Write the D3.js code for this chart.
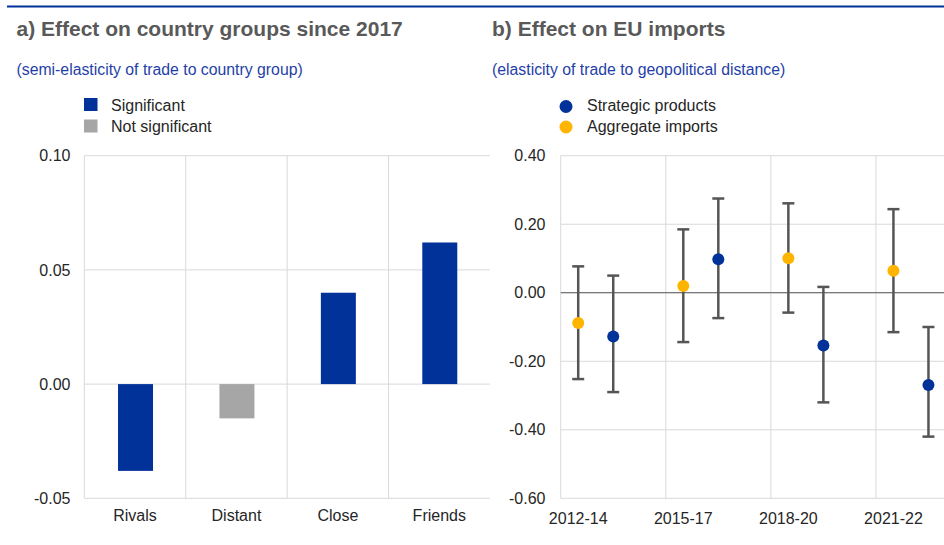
<!DOCTYPE html>
<html><head><meta charset="utf-8">
<script src="https://cdn.jsdelivr.net/npm/d3@7"></script>
<style>
html,body{margin:0;padding:0;background:#fff;}
svg{display:block;font-family:"Liberation Sans",Arial,sans-serif;}
</style></head>
<body>
<svg id="c" width="944" height="545"></svg>
<script>
// ---- Panel a data ----
const groups = ["Rivals", "Distant", "Close", "Friends"];
const groupValues = [-0.038, -0.015, 0.040, 0.062];
const groupSignificant = [true, false, true, true];
const aTicks = [-0.05, 0.00, 0.05, 0.10];

// ---- Panel b data ----
const periods = ["2012-14", "2015-17", "2018-20", "2021-22"];
const aggregateValue = [-0.088, 0.020, 0.101, 0.064];
const aggregateLow   = [-0.252, -0.144, -0.058, -0.115];
const aggregateHigh  = [0.077, 0.185, 0.261, 0.244];
const strategicValue = [-0.128, 0.098, -0.154, -0.269];
const strategicLow   = [-0.290, -0.074, -0.320, -0.420];
const strategicHigh  = [0.050, 0.275, 0.017, -0.100];
const bTicks = [-0.60, -0.40, -0.20, 0.00, 0.20, 0.40];

const BLUE = "#003299", GREY = "#a6a6a6", YELLOW = "#ffb400";
const GRID = "#d9d9d9", TXT = "#262626", TITLE = "#595959", SUB = "#1f3fa8";
const fmt = d => d.toFixed(2);

const svg = d3.select("#c");

// top rule
svg.append("line").attr("x1", 7).attr("x2", 944).attr("y1", 6.5).attr("y2", 6.5)
  .attr("stroke", BLUE).attr("stroke-width", 2);

function header(x, title, sub) {
  svg.append("text").attr("x", x).attr("y", 36).attr("font-size", 21).attr("font-weight", "bold")
    .attr("fill", TITLE).text(title);
  svg.append("text").attr("x", x).attr("y", 75).attr("font-size", 15.8).attr("fill", SUB).text(sub);
}
header(16.5, "a) Effect on country groups since 2017", "(semi-elasticity of trade to country group)");
header(492, "b) Effect on EU imports", "(elasticity of trade to geopolitical distance)");

// ---------------- Panel a ----------------
const ax = d3.scaleBand().domain(groups).range([84.3, 490]);
const ay = d3.scaleLinear().domain([-0.05, 0.10]).range([498.3, 155.7]);
const ga = svg.append("g");

ga.selectAll("line.h").data(aTicks).join("line")
  .attr("x1", 84.3).attr("x2", 490).attr("y1", d => ay(d)).attr("y2", d => ay(d))
  .attr("stroke", GRID).attr("stroke-width", 1);
ga.selectAll("line.v").data(groups).join("line")
  .attr("x1", d => ax(d)).attr("x2", d => ax(d)).attr("y1", ay(0.10)).attr("y2", ay(-0.05))
  .attr("stroke", GRID).attr("stroke-width", 1);

const barW = ax.bandwidth() * 0.345;
ga.selectAll("rect.bar").data(groups).join("rect")
  .attr("x", d => ax(d) + ax.bandwidth() / 2 - barW / 2 + 0.5)
  .attr("width", barW)
  .attr("y", (d, i) => ay(Math.max(0, groupValues[i])))
  .attr("height", (d, i) => Math.abs(ay(groupValues[i]) - ay(0)))
  .attr("fill", (d, i) => groupSignificant[i] ? BLUE : GREY);

const ayAxis = d3.axisLeft(ay).tickValues(aTicks).tickFormat(fmt).tickSize(0).tickPadding(0);
ga.append("g").attr("transform", "translate(70.5,0)").call(ayAxis)
  .call(g => g.select(".domain").remove())
  .call(g => g.selectAll("text").attr("font-size", 16).attr("fill", TXT).attr("font-family", null));

const axAxis = d3.axisBottom(ax).tickSize(0).tickPadding(0);
ga.append("g").attr("transform", "translate(0,510)").call(axAxis)
  .call(g => g.select(".domain").remove())
  .call(g => g.selectAll("text").attr("font-size", 16).attr("fill", TXT).attr("font-family", null));

// legend a
const legA = [{ label: "Significant", color: BLUE }, { label: "Not significant", color: GREY }];
legA.forEach((d, i) => {
  svg.append("rect").attr("x", 84).attr("y", 98 + i * 21.5).attr("width", 13.5).attr("height", 13)
    .attr("fill", d.color);
  svg.append("text").attr("x", 111).attr("y", 111 + i * 21).attr("font-size", 16).attr("fill", TXT).text(d.label);
});

// ---------------- Panel b ----------------
const bx = d3.scaleBand().domain(periods).range([560.7, 981]);
const sub = d3.scaleBand().domain(["Aggregate imports", "Strategic products", "gap"]).range([0, bx.bandwidth()]);
const by = d3.scaleLinear().domain([-0.6, 0.4]).range([498.3, 155.7]);
const gb = svg.append("g");

gb.selectAll("line.h").data(bTicks).join("line")
  .attr("x1", 560.7).attr("x2", 944).attr("y1", d => by(d)).attr("y2", d => by(d))
  .attr("stroke", GRID).attr("stroke-width", 1);
gb.selectAll("line.v").data(periods).join("line")
  .attr("x1", d => bx(d)).attr("x2", d => bx(d)).attr("y1", by(0.4)).attr("y2", by(-0.6))
  .attr("stroke", GRID).attr("stroke-width", 1);
gb.append("line").attr("x1", 560.7).attr("x2", 944).attr("y1", by(0)).attr("y2", by(0))
  .attr("stroke", "#595959").attr("stroke-width", 1);

const series = [
  { name: "Aggregate imports", color: YELLOW, v: aggregateValue, lo: aggregateLow, hi: aggregateHigh },
  { name: "Strategic products", color: BLUE, v: strategicValue, lo: strategicLow, hi: strategicHigh }
];
const ERR = "#555555";
series.forEach(s => {
  const cx = p => bx(p) + sub(s.name) + sub.bandwidth() / 2;
  const g = gb.append("g");
  periods.forEach((p, i) => {
    const x = cx(p);
    g.append("line").attr("x1", x).attr("x2", x).attr("y1", by(s.hi[i])).attr("y2", by(s.lo[i]))
      .attr("stroke", ERR).attr("stroke-width", 2.5);
    [s.hi[i], s.lo[i]].forEach(v => {
      g.append("line").attr("x1", x - 6).attr("x2", x + 6).attr("y1", by(v)).attr("y2", by(v))
        .attr("stroke", ERR).attr("stroke-width", 2.5);
    });
  });
  g.selectAll("circle").data(periods).join("circle")
    .attr("cx", p => cx(p)).attr("cy", (p, i) => by(s.v[i])).attr("r", 6)
    .attr("fill", s.color);
});

const byAxis = d3.axisLeft(by).tickValues(bTicks).tickFormat(fmt).tickSize(0).tickPadding(0);
gb.append("g").attr("transform", "translate(545.5,0)").call(byAxis)
  .call(g => g.select(".domain").remove())
  .call(g => g.selectAll("text").attr("font-size", 16).attr("fill", TXT).attr("font-family", null));

gb.selectAll("text.xl").data(periods).join("text")
  .attr("x", p => bx(p) + sub("Aggregate imports") + sub.bandwidth() / 2)
  .attr("y", 523.5).attr("text-anchor", "middle").attr("font-size", 16).attr("fill", TXT)
  .text(p => p);

// legend b
series.slice().reverse().forEach((d, i) => {
  svg.append("circle").attr("cx", 566).attr("cy", 106.5 + i * 20.5).attr("r", 6.5).attr("fill", d.color);
  svg.append("text").attr("x", 587).attr("y", 111 + i * 21).attr("font-size", 16).attr("fill", TXT).text(d.name);
});
</script>
</body></html>
